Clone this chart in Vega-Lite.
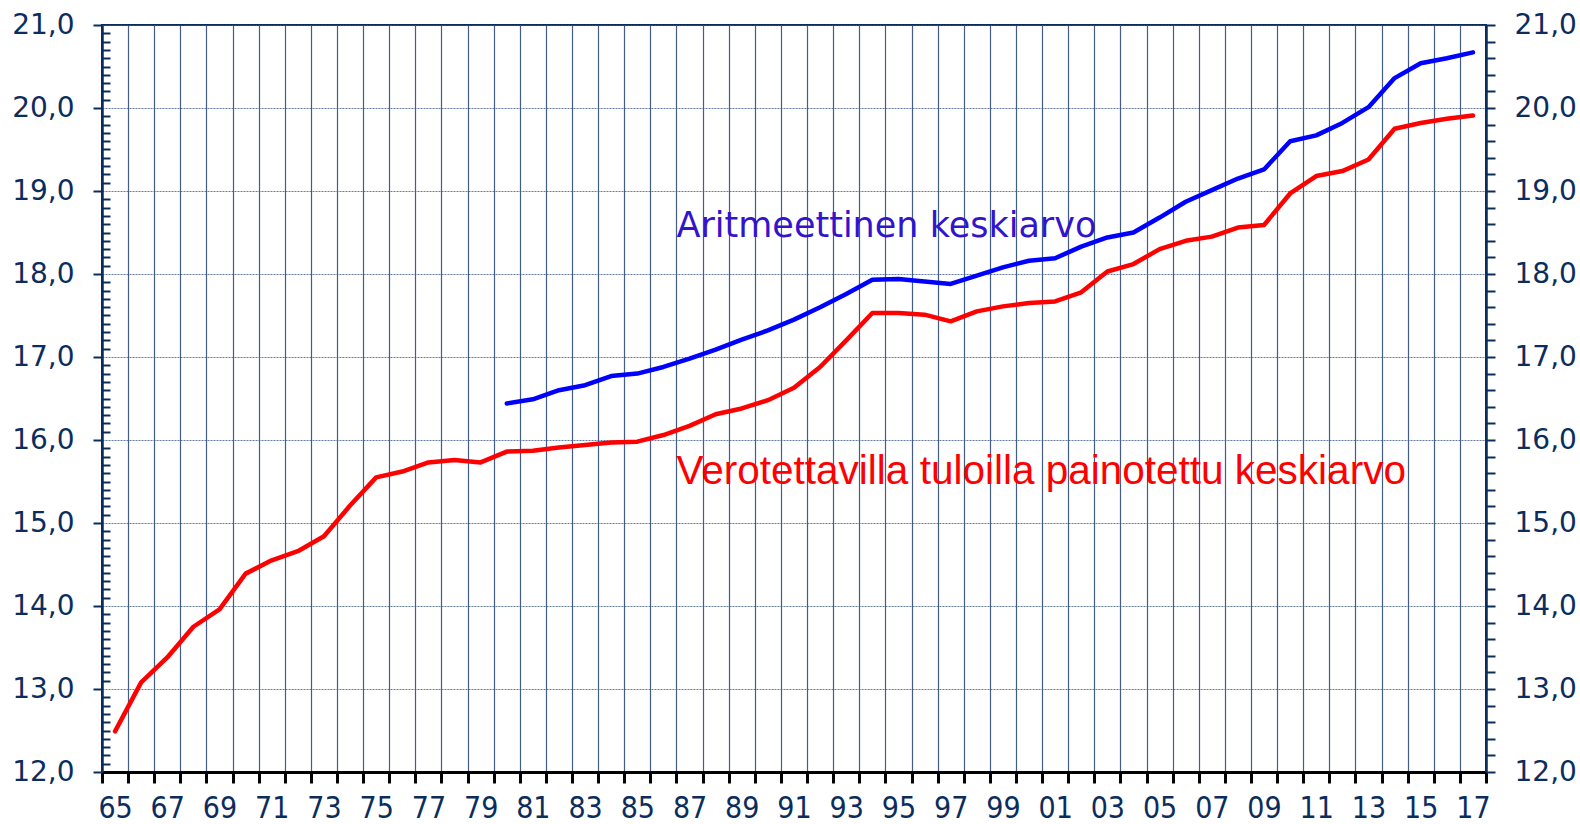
{
  "$schema": "https://vega.github.io/schema/vega-lite/v6.json",
  "autosize": "none",
  "width": 1384,
  "height": 747,
  "padding": {"left": 102, "top": 25, "right": 94, "bottom": 52},
  "background": "white",
  "config": {
    "view": {"stroke": "#0b2d5e", "strokeWidth": 2},
    "axis": {"labelFont": "DejaVu Sans", "labelColor": "#0b2d5e"}
  },
  "datasets": {
    "weighted": [
      {"year": 1965, "value": 12.49}, {"year": 1966, "value": 13.08}, {"year": 1967, "value": 13.38},
      {"year": 1968, "value": 13.75}, {"year": 1969, "value": 13.96}, {"year": 1970, "value": 14.39},
      {"year": 1971, "value": 14.55}, {"year": 1972, "value": 14.66}, {"year": 1973, "value": 14.84},
      {"year": 1974, "value": 15.21}, {"year": 1975, "value": 15.55}, {"year": 1976, "value": 15.62},
      {"year": 1977, "value": 15.73}, {"year": 1978, "value": 15.76}, {"year": 1979, "value": 15.73},
      {"year": 1980, "value": 15.86}, {"year": 1981, "value": 15.87}, {"year": 1982, "value": 15.91},
      {"year": 1983, "value": 15.94}, {"year": 1984, "value": 15.97}, {"year": 1985, "value": 15.98},
      {"year": 1986, "value": 16.06}, {"year": 1987, "value": 16.17}, {"year": 1988, "value": 16.31},
      {"year": 1989, "value": 16.38}, {"year": 1990, "value": 16.48}, {"year": 1991, "value": 16.63},
      {"year": 1992, "value": 16.88}, {"year": 1993, "value": 17.2}, {"year": 1994, "value": 17.53},
      {"year": 1995, "value": 17.53}, {"year": 1996, "value": 17.51}, {"year": 1997, "value": 17.43},
      {"year": 1998, "value": 17.55}, {"year": 1999, "value": 17.61}, {"year": 2000, "value": 17.65},
      {"year": 2001, "value": 17.67}, {"year": 2002, "value": 17.78}, {"year": 2003, "value": 18.03},
      {"year": 2004, "value": 18.12}, {"year": 2005, "value": 18.3}, {"year": 2006, "value": 18.4},
      {"year": 2007, "value": 18.45}, {"year": 2008, "value": 18.56}, {"year": 2009, "value": 18.59},
      {"year": 2010, "value": 18.97}, {"year": 2011, "value": 19.18}, {"year": 2012, "value": 19.24},
      {"year": 2013, "value": 19.38}, {"year": 2014, "value": 19.75}, {"year": 2015, "value": 19.82},
      {"year": 2016, "value": 19.87}, {"year": 2017, "value": 19.91}
    ],
    "arithmetic": [
      {"year": 1980, "value": 16.44}, {"year": 1981, "value": 16.49}, {"year": 1982, "value": 16.6},
      {"year": 1983, "value": 16.66}, {"year": 1984, "value": 16.77}, {"year": 1985, "value": 16.8},
      {"year": 1986, "value": 16.88}, {"year": 1987, "value": 16.98}, {"year": 1988, "value": 17.09},
      {"year": 1989, "value": 17.21}, {"year": 1990, "value": 17.32}, {"year": 1991, "value": 17.45},
      {"year": 1992, "value": 17.6}, {"year": 1993, "value": 17.76}, {"year": 1994, "value": 17.93},
      {"year": 1995, "value": 17.94}, {"year": 1996, "value": 17.91}, {"year": 1997, "value": 17.88},
      {"year": 1998, "value": 17.98}, {"year": 1999, "value": 18.08}, {"year": 2000, "value": 18.16},
      {"year": 2001, "value": 18.19}, {"year": 2002, "value": 18.33}, {"year": 2003, "value": 18.44},
      {"year": 2004, "value": 18.5}, {"year": 2005, "value": 18.68}, {"year": 2006, "value": 18.87},
      {"year": 2007, "value": 19.01}, {"year": 2008, "value": 19.15}, {"year": 2009, "value": 19.26},
      {"year": 2010, "value": 19.6}, {"year": 2011, "value": 19.67}, {"year": 2012, "value": 19.82},
      {"year": 2013, "value": 20.01}, {"year": 2014, "value": 20.36}, {"year": 2015, "value": 20.54},
      {"year": 2016, "value": 20.6}, {"year": 2017, "value": 20.67}
    ],
    "notes": [
      {"year": 1987, "value": 18.44, "text": "Aritmeettinen keskiarvo", "series": "arit"},
      {"year": 1987, "value": 15.47, "text": "Verotettavilla tuloilla painotettu keskiarvo", "series": "weighted"}
    ]
  },
  "resolve": {"scale": {"y": "independent"}},
  "layer": [
    {
      "data": {"name": "weighted"},
      "mark": {"type": "line", "color": "#ff0000", "strokeWidth": 4.5, "strokeJoin": "round", "strokeCap": "round"},
      "encoding": {
        "x": {
          "field": "year", "type": "ordinal", "bandPosition": 0.5,
          "scale": {"type": "band", "paddingInner": 0, "paddingOuter": 0,
            "domain": [1965,1966,1967,1968,1969,1970,1971,1972,1973,1974,1975,1976,1977,1978,1979,1980,1981,1982,1983,1984,1985,1986,1987,1988,1989,1990,1991,1992,1993,1994,1995,1996,1997,1998,1999,2000,2001,2002,2003,2004,2005,2006,2007,2008,2009,2010,2011,2012,2013,2014,2015,2016,2017]},
          "axis": {
            "title": null, "tickBand": "extent", "grid": true,
            "gridColor": "#14346a", "gridOpacity": 0.8, "gridWidth": 1.2,
            "domainColor": "#000000", "domainWidth": 3,
            "tickColor": "#000000", "tickWidth": 3, "tickSize": 11,
            "labelAngle": 0, "labelOverlap": false,
            "labelFont": "Liberation Sans Narrow, DejaVu Sans Condensed, Liberation Sans",
            "labelFontSize": 30, "labelPadding": 10, "labelColor": "#0b2d5e",
            "labelExpr": "datum.value % 2 == 1 ? substring(datum.label, 2, 4) : ''"
          }
        },
        "y": {
          "field": "value", "type": "quantitative",
          "scale": {"domain": [12, 21], "nice": false, "zero": false},
          "axis": {
            "orient": "left", "title": null,
            "values": [12,12.1,12.2,12.3,12.4,12.5,12.6,12.7,12.8,12.9,13,13.1,13.2,13.3,13.4,13.5,13.6,13.7,13.8,13.9,14,14.1,14.2,14.3,14.4,14.5,14.6,14.7,14.8,14.9,15,15.1,15.2,15.3,15.4,15.5,15.6,15.7,15.8,15.9,16,16.1,16.2,16.3,16.4,16.5,16.6,16.7,16.8,16.9,17,17.1,17.2,17.3,17.4,17.5,17.6,17.7,17.8,17.9,18,18.1,18.2,18.3,18.4,18.5,18.6,18.7,18.8,18.9,19,19.1,19.2,19.3,19.4,19.5,19.6,19.7,19.8,19.9,20,20.1,20.2,20.3,20.4,20.5,20.6,20.7,20.8,20.9,21],
            "grid": true,
            "gridColor": "#3a5a8a", "gridDash": [2, 1], "gridWidth": 1,
            "gridOpacity": {"condition": {"test": "abs(datum.value - round(datum.value)) < 0.001", "value": 0.8}, "value": 0},
            "domainColor": "#0b2d5e", "domainWidth": 2.5,
            "tickColor": "#0b2d5e", "tickWidth": 2,
            "tickSize": {"condition": {"test": "abs(datum.value - round(datum.value)) < 0.001", "value": 9}, "value": -8},
            "labelOverlap": false, "labelFontSize": 28, "labelPadding": 19, "labelColor": "#0b2d5e",
            "labelFont": "DejaVu Sans",
            "labelExpr": "abs(datum.value - round(datum.value)) < 0.001 ? replace(format(datum.value, '.1f'), '.', ',') : ''"
          }
        }
      }
    },
    {
      "data": {"name": "arithmetic"},
      "mark": {"type": "line", "color": "#0000ff", "strokeWidth": 4.5, "strokeJoin": "round", "strokeCap": "round"},
      "encoding": {
        "x": {"field": "year", "type": "ordinal", "bandPosition": 0.5},
        "y": {
          "field": "value", "type": "quantitative",
          "scale": {"domain": [12, 21], "nice": false, "zero": false},
          "axis": {
            "orient": "right", "title": null, "grid": false,
            "values": [12,12.2,12.4,12.6,12.8,13,13.2,13.4,13.6,13.8,14,14.2,14.4,14.6,14.8,15,15.2,15.4,15.6,15.8,16,16.2,16.4,16.6,16.8,17,17.2,17.4,17.6,17.8,18,18.2,18.4,18.6,18.8,19,19.2,19.4,19.6,19.8,20,20.2,20.4,20.6,20.8,21],
            "domainColor": "#0b2d5e", "domainWidth": 2.5,
            "tickColor": "#0b2d5e", "tickWidth": 2, "tickSize": 9,
            "labelOverlap": false, "labelFontSize": 28, "labelPadding": 19, "labelColor": "#0b2d5e",
            "labelFont": "DejaVu Sans",
            "labelExpr": "abs(datum.value - round(datum.value)) < 0.001 ? replace(format(datum.value, '.1f'), '.', ',') : ''"
          }
        }
      }
    },
    {
      "data": {"name": "notes"},
      "transform": [{"filter": "datum.series == 'arit'"}],
      "mark": {"type": "text", "align": "left", "baseline": "alphabetic", "dx": 0, "font": "DejaVu Sans", "fontSize": 35, "color": "#3314cc"},
      "encoding": {
        "x": {"field": "year", "type": "ordinal", "bandPosition": 0},
        "y": {"field": "value", "type": "quantitative", "scale": {"domain": [12, 21], "nice": false, "zero": false}, "axis": null},
        "text": {"field": "text"}
      }
    },
    {
      "data": {"name": "notes"},
      "transform": [{"filter": "datum.series == 'weighted'"}],
      "mark": {"type": "text", "align": "left", "baseline": "alphabetic", "dx": 0, "font": "Liberation Sans", "fontSize": 40.5, "color": "#ff0000"},
      "encoding": {
        "x": {"field": "year", "type": "ordinal", "bandPosition": 0},
        "y": {"field": "value", "type": "quantitative", "scale": {"domain": [12, 21], "nice": false, "zero": false}, "axis": null},
        "text": {"field": "text"}
      }
    }
  ]
}
